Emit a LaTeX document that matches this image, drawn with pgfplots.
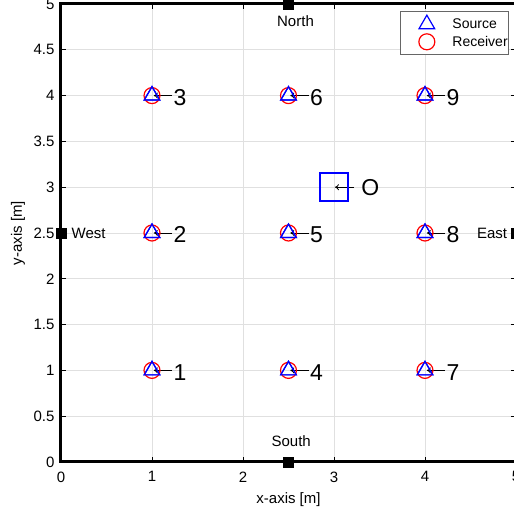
\documentclass[border=0pt]{standalone}
\usepackage{fontspec}
\setmainfont{Liberation Sans}
\usepackage{pgfplots}
\pgfplotsset{compat=1.18}
\usetikzlibrary{arrows.meta}
\begin{document}
\begin{tikzpicture}[x=1pt,y=1pt]
\useasboundingbox (-61,-51) rectangle (453,462);
\begin{axis}[
  at={(0,0)}, anchor=south west,
  scale only axis, width=455pt, height=458pt,
  xmin=0, xmax=5, ymin=0, ymax=5,
  xtick={0,1,2,3,4,5},
  ytick={0,0.5,1,1.5,2,2.5,3,3.5,4,4.5,5},
  /pgf/number format/assume math mode=true,
  tick label style={font=\fontsize{15}{18}\selectfont},
  xticklabel style={yshift=-6pt},
  yticklabel style={xshift=-3pt},
  label style={font=\fontsize{15}{18}\selectfont},
  xlabel={x-axis [m]}, ylabel={y-axis [m]},
  xlabel style={at={(axis description cs:0.5,-0.0825)}, anchor=center},
  ylabel style={at={(axis description cs:-0.0945,0.5)}, anchor=center},
  grid=major,
  grid style={line width=0.7pt, color=black!12},
  axis line style={line width=3pt},
  tick align=inside, major tick length=5pt,
  tick style={black, line width=0.7pt},
  clip=false,
  legend cell align=left,
  legend image code/.code={\path (0pt,0pt) (35pt,0pt); \draw[#1] plot coordinates {(26pt,0pt)};},
  legend style={at={(0.9846,0.985)}, anchor=north east, draw=black!60,
    line width=0.6pt, font=\fontsize{14}{16}\selectfont,
    inner xsep=0pt, inner ysep=4pt, nodes={inner sep=1pt},
    /tikz/every odd column/.append style={column sep=15pt},
    row sep=3pt},
]
\addplot[only marks, mark=triangle, mark size=9pt, blue, line width=1.2pt]
  coordinates {(1,1)(1,2.5)(1,4)(2.5,1)(2.5,2.5)(2.5,4)(4,1)(4,2.5)(4,4)};
\addlegendentry{Source}
\addplot[only marks, mark=o, mark size=8pt, red, line width=1.2pt]
  coordinates {(1,1)(1,2.5)(1,4)(2.5,1)(2.5,2.5)(2.5,4)(4,1)(4,2.5)(4,4)};
\addlegendentry{Receiver}
\addplot[only marks, mark=triangle, mark size=9pt, blue, line width=1.2pt, forget plot]
  coordinates {(1,1)(1,2.5)(1,4)(2.5,1)(2.5,2.5)(2.5,4)(4,1)(4,2.5)(4,4)};
\addplot[only marks, mark=square*, mark size=5pt, black, forget plot]
  coordinates {(2.5,5)(2.5,0)(0,2.5)(5,2.5)};
\addplot[only marks, mark=square, mark size=14pt, blue, line width=2.5pt, forget plot]
  coordinates {(3,3)};
% number annotations
\foreach \px/\py/\lab in {1/1/1,1/2.5/2,1/4/3,2.5/1/4,2.5/2.5/5,2.5/4/6,4/1/7,4/2.5/8,4/4/9}{
  \edef\tmp{\noexpand\draw[-{To[length=4pt,width=6pt]}, line width=0.8pt]
    (axis cs:\px+0.22,\py) -- (axis cs:\px+0.02,\py);
    \noexpand\node[anchor=west, font=\noexpand\fontsize{23}{26}\noexpand\selectfont, inner sep=0pt]
    at (axis cs:\px+0.235,\py-0.02) {\lab};}
  \tmp
}
\draw[-{To[length=4pt,width=6pt]}, line width=0.8pt] (axis cs:3.22,3) -- (axis cs:3.01,3);
\node[anchor=west, font=\fontsize{23}{26}\selectfont, inner sep=0pt] at (axis cs:3.30,3) {O};
\node[font=\fontsize{15}{18}\selectfont, inner sep=0pt] at (axis cs:2.577,4.81) {North};
\node[font=\fontsize{15}{18}\selectfont, inner sep=0pt] at (axis cs:2.53,0.224) {South};
\node[anchor=west, font=\fontsize{15}{18}\selectfont, inner sep=0pt] at (axis cs:0.115,2.5) {West};
\node[anchor=west, font=\fontsize{15}{18}\selectfont, inner sep=0pt] at (axis cs:4.57,2.5) {East};
\end{axis}
\end{tikzpicture}
\end{document}
